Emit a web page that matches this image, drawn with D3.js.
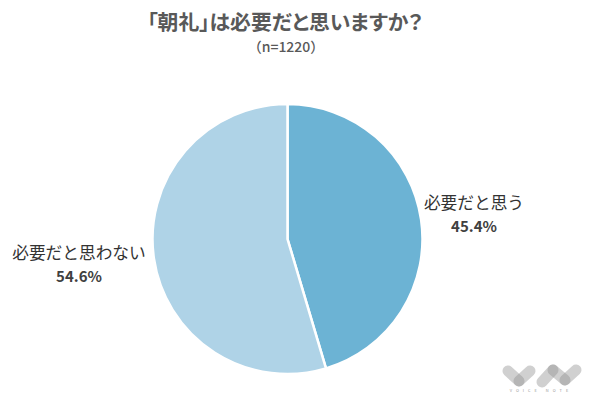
<!DOCTYPE html>
<html>
<head>
<meta charset="utf-8">
<script src="https://cdn.jsdelivr.net/npm/d3@7"></script>
<style>
  html, body { margin: 0; padding: 0; background: #fff; }
  text { font-family: "Noto Sans CJK JP", "Noto Sans", sans-serif; }
</style>
</head>
<body>
<div id="container"></div>
<script>
var categories = ["必要だと思う", "必要だと思わない"];
var values = [45.4, 54.6];
var colors = ["#6cb3d4", "#afd3e7"];
var title = "「朝礼」は必要だと思いますか？";
var subtitle = "（n=1220）";

var w = 590;
var h = 400;

var svg = d3.select("#container")
  .append("svg")
  .attr("width", w)
  .attr("height", h)
  .style("display", "block");

svg.append("rect")
  .attr("width", w)
  .attr("height", h)
  .attr("fill", "#fff");

svg.append("text")
  .attr("x", 285)
  .attr("y", 30)
  .attr("text-anchor", "middle")
  .attr("font-size", 20.8)
  .attr("font-weight", 700)
  .attr("fill", "#595959")
  .style("font-feature-settings", '"palt"')
  .text(title);

svg.append("text")
  .attr("x", 286)
  .attr("y", 52)
  .attr("text-anchor", "middle")
  .attr("font-size", 14)
  .attr("font-weight", 500)
  .attr("fill", "#595959")
  .text(subtitle);

var pie = d3.pie().sort(null).value(function(d) { return d; });
var arc = d3.arc().innerRadius(0).outerRadius(135);

var g = svg.append("g").attr("transform", "translate(287.5,239)");

g.selectAll("path")
  .data(pie(values))
  .enter()
  .append("path")
  .attr("d", arc)
  .attr("fill", function(d, i) { return colors[i]; })
  .attr("stroke", "#fff")
  .attr("stroke-width", 2.5);

// labels sit outside the pie, left and right of it
var labelX = [474, 79];
var labelY = [209, 259];

var labels = svg.selectAll("g.label")
  .data(categories)
  .enter()
  .append("g")
  .attr("class", "label")
  .attr("transform", function(d, i) { return "translate(" + labelX[i] + "," + labelY[i] + ")"; });

labels.append("text")
  .attr("text-anchor", "middle")
  .attr("font-size", 16.7)
  .attr("fill", "#333")
  .text(function(d) { return d; });

labels.append("text")
  .attr("y", 23)
  .attr("text-anchor", "middle")
  .attr("font-size", 15)
  .attr("font-weight", 700)
  .attr("fill", "#404040")
  .text(function(d, i) { return values[i].toFixed(1) + "%"; });

// logo bottom right
var logoBars = [
  [508, 371, 519, 381], [530, 371, 519, 381],
  [542, 382, 553, 370], [553, 370, 565, 380], [576, 370, 565, 380]
];
svg.append("g").selectAll("line")
  .data(logoBars)
  .enter()
  .append("line")
  .attr("x1", function(d) { return d[0]; })
  .attr("y1", function(d) { return d[1]; })
  .attr("x2", function(d) { return d[2]; })
  .attr("y2", function(d) { return d[3]; })
  .attr("stroke", "#8f8f8f")
  .attr("stroke-opacity", 0.42)
  .attr("stroke-width", 11)
  .attr("stroke-linecap", "round");

svg.append("text")
  .attr("x", 541)
  .attr("y", 392)
  .attr("text-anchor", "middle")
  .attr("font-size", 4)
  .attr("letter-spacing", 4)
  .attr("fill", "#999")
  .text("VOICE NOTE");
</script>
</body>
</html>
